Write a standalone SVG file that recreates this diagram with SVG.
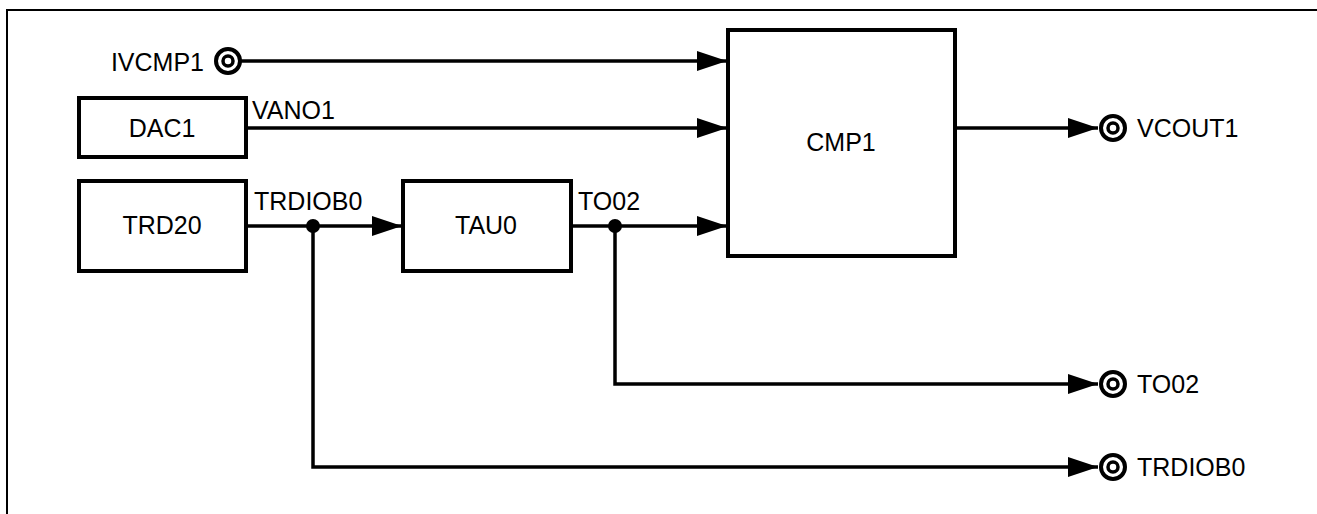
<svg xmlns="http://www.w3.org/2000/svg" width="1317" height="514" viewBox="0 0 1317 514">
<style>
.box{fill:#fff;stroke:#000;stroke-width:4}
.ln{fill:none;stroke:#000;stroke-width:3.5}
.t{font-family:"Liberation Sans",Arial,sans-serif;font-size:25px;fill:#000}
.pin{fill:#fff;stroke:#000;stroke-width:4}
.pin2{fill:#fff;stroke:#000;stroke-width:3.5}
</style>
<defs>
<marker id="arr" viewBox="0 0 30 20" refX="30" refY="10" markerWidth="30" markerHeight="20" markerUnits="userSpaceOnUse" orient="auto">
<path d="M0,0 L30,10 L0,20 Z" fill="#000"/>
</marker>
</defs>
<rect width="1317" height="514" fill="#fff"/>
<path d="M7,514 V10 H1317" fill="none" stroke="#000" stroke-width="2"/>
<g id="connectors">
<path class="ln" d="M241,61 H727" marker-end="url(#arr)"/>
<path class="ln" d="M246,128 H727" marker-end="url(#arr)"/>
<path class="ln" d="M246,226 H402" marker-end="url(#arr)"/>
<path class="ln" d="M571,226 H727" marker-end="url(#arr)"/>
<path class="ln" d="M955,128 H1098" marker-end="url(#arr)"/>
<path class="ln" d="M615,226 V384 H1098" marker-end="url(#arr)"/>
<path class="ln" d="M313,226 V467 H1098" marker-end="url(#arr)"/>
<circle cx="313" cy="226" r="7" fill="#000"/>
<circle cx="615" cy="226" r="7" fill="#000"/>
<text class="t" x="252" y="119">VANO1</text>
<text class="t" x="254" y="210">TRDIOB0</text>
<text class="t" x="578" y="210">TO02</text>
</g>
<g id="IVCMP1">
<circle class="pin" cx="228" cy="61" r="12"/>
<circle class="pin2" cx="228" cy="61" r="5"/>
<text class="t" x="204" y="71" text-anchor="end">IVCMP1</text>
</g>
<g id="DAC1">
<rect class="box" x="79" y="98" width="167" height="59"/>
<text class="t" x="162" y="137" text-anchor="middle">DAC1</text>
</g>
<g id="TRD20">
<rect class="box" x="79" y="181" width="167" height="90"/>
<text class="t" x="162" y="234" text-anchor="middle">TRD20</text>
</g>
<g id="TAU0">
<rect class="box" x="403" y="181" width="168" height="90"/>
<text class="t" x="486" y="234" text-anchor="middle">TAU0</text>
</g>
<g id="CMP1">
<rect class="box" x="728" y="30" width="227" height="226"/>
<text class="t" x="841" y="151" text-anchor="middle">CMP1</text>
</g>
<g id="VCOUT1">
<circle class="pin" cx="1113" cy="128" r="12"/>
<circle class="pin2" cx="1113" cy="128" r="5"/>
<text class="t" x="1137" y="137">VCOUT1</text>
</g>
<g id="TO02">
<circle class="pin" cx="1113" cy="384" r="12"/>
<circle class="pin2" cx="1113" cy="384" r="5"/>
<text class="t" x="1137" y="393">TO02</text>
</g>
<g id="TRDIOB0">
<circle class="pin" cx="1113" cy="467" r="12"/>
<circle class="pin2" cx="1113" cy="467" r="5"/>
<text class="t" x="1137" y="476">TRDIOB0</text>
</g>
</svg>
